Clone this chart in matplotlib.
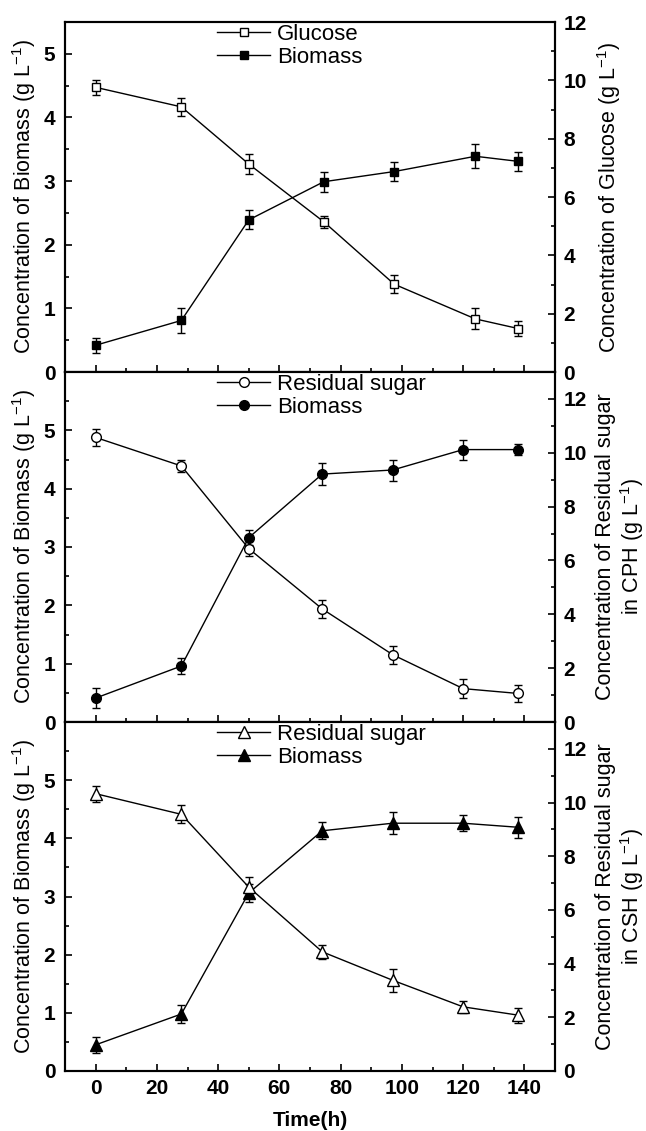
import matplotlib
matplotlib.use("Agg")
import matplotlib.pyplot as plt
from matplotlib.ticker import MultipleLocator
import numpy as np

plt.rcParams['font.family'] = ['Liberation Sans', 'DejaVu Sans']
plt.rcParams['mathtext.fontset'] = 'custom'
plt.rcParams['mathtext.rm'] = 'Liberation Sans'
plt.rcParams['mathtext.it'] = 'Liberation Sans'
plt.rcParams['mathtext.default'] = 'regular'

# time points (h)
t_top = [0, 28, 50, 74.5, 97.5, 124, 138]
t_mid = [0, 28, 50, 74, 97, 120, 138]
t_bot = [0, 28, 50, 74, 97, 120, 138]

# panel 1: glucose medium
bio1 = [0.42, 0.81, 2.39, 2.99, 3.15, 3.39, 3.31]
bio1_err = [0.12, 0.19, 0.15, 0.16, 0.15, 0.19, 0.15]
glu1 = [9.76, 9.09, 7.13, 5.15, 3.01, 1.82, 1.49]
glu1_err = [0.26, 0.32, 0.34, 0.21, 0.31, 0.36, 0.27]

# panel 2: CPH
bio2 = [0.41, 0.96, 3.16, 4.25, 4.32, 4.67, 4.67]
bio2_err = [0.17, 0.14, 0.13, 0.19, 0.18, 0.17, 0.09]
sug2 = [10.57, 9.51, 6.44, 4.20, 2.50, 1.24, 1.06]
sug2_err = [0.31, 0.22, 0.28, 0.35, 0.34, 0.34, 0.31]

# panel 3: CSH
bio3 = [0.45, 0.98, 3.06, 4.13, 4.26, 4.26, 4.19]
bio3_err = [0.14, 0.15, 0.16, 0.15, 0.19, 0.14, 0.18]
sug3 = [10.33, 9.56, 6.85, 4.44, 3.38, 2.39, 2.08]
sug3_err = [0.30, 0.34, 0.37, 0.26, 0.42, 0.23, 0.28]

panels = [
    dict(t=t_top, bio=bio1, bio_err=bio1_err, sug=glu1, sug_err=glu1_err,
         marker='s', ms=6, sug_label='Glucose', ylim=5.5, ylim2=12,
         rlabel='Concentration of Glucose (g L$^{-1}$)'),
    dict(t=t_mid, bio=bio2, bio_err=bio2_err, sug=sug2, sug_err=sug2_err,
         marker='o', ms=7, sug_label='Residual sugar', ylim=6, ylim2=13,
         rlabel='Concentration of Residual sugar\nin CPH (g L$^{-1}$)'),
    dict(t=t_bot, bio=bio3, bio_err=bio3_err, sug=sug3, sug_err=sug3_err,
         marker='^', ms=8, sug_label='Residual sugar', ylim=6, ylim2=13,
         rlabel='Concentration of Residual sugar\nin CSH (g L$^{-1}$)'),
]

fig = plt.figure(figsize=(6.46, 11.31), dpi=100)
left, width = 65/646, 490/646
tops = [22, 372, 722]
bots = [372, 722, 1071]
TFS = 15   # tick labels
LFS = 15.5 # axis labels

for i, p in enumerate(panels):
    ax = fig.add_axes([left, 1 - bots[i]/1131, width, (bots[i]-tops[i])/1131])
    ax2 = ax.twinx()

    ax.errorbar(p['t'], p['bio'], yerr=p['bio_err'], fmt='none', ecolor='black',
                elinewidth=1, capsize=3, capthick=1)
    lb, = ax.plot(p['t'], p['bio'], '-', color='black', lw=1, marker=p['marker'],
                  ms=p['ms'], mfc='black', mec='black', label='Biomass')
    ax2.errorbar(p['t'], p['sug'], yerr=p['sug_err'], fmt='none', ecolor='black',
                 elinewidth=1, capsize=3, capthick=1)
    ls, = ax2.plot(p['t'], p['sug'], '-', color='black', lw=1, marker=p['marker'],
                   ms=p['ms'], mfc='white', mec='black', label=p['sug_label'])

    ax.set_xlim(-10, 150)
    ax.set_ylim(0, p['ylim'])
    ax2.set_ylim(0, p['ylim2'])
    ax.set_yticks(np.arange(0, 6, 1))
    ax.yaxis.set_minor_locator(MultipleLocator(0.5))
    ax2.set_yticks(np.arange(0, 13, 2))
    ax2.yaxis.set_minor_locator(MultipleLocator(1))
    ax.set_xticks(np.arange(0, 141, 20))
    ax.xaxis.set_minor_locator(MultipleLocator(10))

    ax.tick_params(axis='both', which='both', direction='in', labelsize=TFS)
    ax.tick_params(axis='y', pad=7)
    ax.tick_params(axis='x', pad=6)
    ax.tick_params(which='major', length=5, width=1.2)
    ax.tick_params(which='minor', length=3, width=1.2)
    ax2.tick_params(axis='y', which='both', direction='in', labelsize=TFS, pad=6)
    ax2.tick_params(which='major', length=5, width=1.2)
    ax2.tick_params(which='minor', length=3, width=1.2)
    for lab in ax.get_yticklabels() + ax.get_xticklabels() + ax2.get_yticklabels():
        lab.set_fontweight('bold')
    for a in (ax, ax2):
        for s in a.spines.values():
            s.set_linewidth(1.5)

    if i < 2:
        ax.tick_params(axis='x', labelbottom=False)
    else:
        ax.set_xlabel('Time(h)', fontsize=TFS, fontweight='bold', labelpad=9)

    ax.set_ylabel('Concentration of Biomass (g L$^{-1}$)', fontsize=LFS, labelpad=4)
    ax2.set_ylabel(p['rlabel'], fontsize=LFS, labelpad=6, linespacing=1.1)

    ax2.legend([ls, lb], [p['sug_label'], 'Biomass'], loc='upper left',
               bbox_to_anchor=(0.31, 0.995), frameon=False, fontsize=16,
               handlelength=2.4, handletextpad=0.3, labelspacing=0.1,
               borderpad=0, borderaxespad=0)

fig.savefig('out.png', dpi=100)
